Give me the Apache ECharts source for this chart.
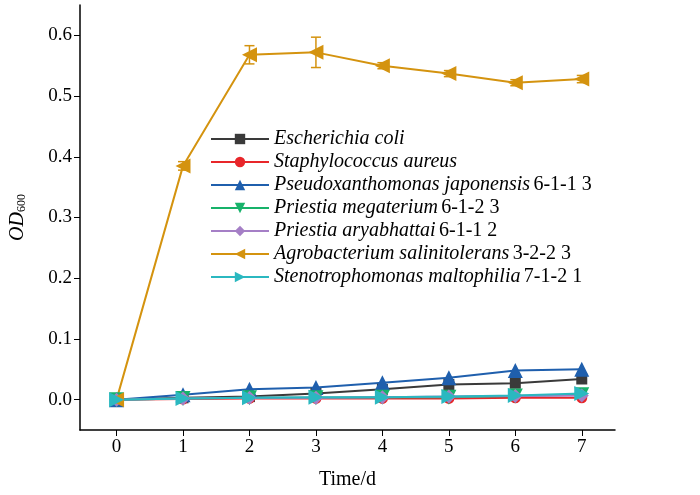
<!DOCTYPE html>
<html><head><meta charset="utf-8">
<script src="https://cdn.jsdelivr.net/npm/echarts@6/dist/echarts.min.js"></script>
<style>body{margin:0}#c{width:700px;height:495px}</style></head>
<body><div id="c"></div>
<script>
var days = [0,1,2,3,4,5,6,7];
var ecoli = [0,0.003,0.005,0.01,0.017,0.025,0.027,0.034];
var staph = [0,0.001,0.002,0.002,0.002,0.002,0.003,0.003];
var pseudo = [0,0.008,0.017,0.02,0.028,0.036,0.048,0.05];
var pmeg = [0,0.002,0.003,0.003,0.004,0.004,0.006,0.008];
var parya = [0,0.002,0.003,0.003,0.004,0.005,0.006,0.007];
var agro = [0,0.385,0.568,0.572,0.55,0.537,0.522,0.528];
var agroErr = [0,0.007,0.015,0.025,0.005,0.005,0.005,0.006];
var steno = [0,0.002,0.003,0.004,0.004,0.005,0.007,0.01];
var yTicks = [0,0.1,0.2,0.3,0.4,0.5,0.6];

var font = 'Liberation Serif';
function pts(a){ return a.map(function(v,i){ return [days[i], v]; }); }
function ser(name, data, color, symbol, rot, size){
  return {name:name, type:'line', data:pts(data), symbol:symbol, symbolRotate:rot||0, symbolSize:size||12,
    itemStyle:{color:color}, lineStyle:{color:color, width:2}, z:3};
}
var series = [
  ser('ecoli', ecoli, '#3a3a3a', 'rect', 0, 11),
  ser('staph', staph, '#e8262a', 'circle', 0, 11),
  ser('pseudo', pseudo, '#1f5fad', 'triangle', 0, 15),
  ser('pmeg', pmeg, '#17b26a', 'triangle', 180, 15),
  ser('parya', parya, '#a57fc6', 'diamond', 0, 14),
  ser('agro', agro, '#d4930f', 'triangle', 90, 15),
  ser('steno', steno, '#2bb8c0', 'triangle', -90, 15)
];
series.push({type:'custom', z:2, data:agro.map(function(v,i){return [days[i], v-agroErr[i], v+agroErr[i]];}),
  renderItem:function(p, api){
    var lo = api.coord([api.value(0), api.value(1)]), hi = api.coord([api.value(0), api.value(2)]);
    var st = {stroke:'#d4930f', lineWidth:1.5};
    return {type:'group', children:[
      {type:'line', shape:{x1:lo[0],y1:lo[1],x2:hi[0],y2:hi[1]}, style:st},
      {type:'line', shape:{x1:lo[0]-5,y1:lo[1],x2:lo[0]+5,y2:lo[1]}, style:st},
      {type:'line', shape:{x1:hi[0]-5,y1:hi[1],x2:hi[0]+5,y2:hi[1]}, style:st}
    ]};
  }});

var rich = {i:{fontStyle:'italic', fontFamily:font, fontSize:20, color:'#000'}, n:{fontFamily:font, fontSize:20, color:'#000'}};
var labels = {
  ecoli:'{i|Escherichia coli}',
  staph:'{i|Staphylococcus aureus}',
  pseudo:'{i|Pseudoxanthomonas japonensis} {n|6-1-1 3}',
  pmeg:'{i|Priestia megaterium} {n|6-1-2 3}',
  parya:'{i|Priestia aryabhattai} {n|6-1-1 2}',
  agro:'{i|Agrobacterium salinitolerans} {n|3-2-2 3}',
  steno:'{i|Stenotrophomonas maltophilia} {n|7-1-2 1}'
};

var chart = echarts.init(document.getElementById('c'));
chart.setOption({
  animation:false,
  grid:{left:80, right:85, top:5, bottom:65},
  legend:{left:205, top:124, orient:'vertical', itemGap:3, itemWidth:58, itemHeight:13,
    data:['ecoli','staph','pseudo','pmeg','parya','agro','steno'],
    formatter:function(n){return labels[n];}, textStyle:{rich:rich}},
  xAxis:{type:'value', min:-0.55, max:7.5,
    name:'Time/d', nameLocation:'middle', nameGap:40, nameTextStyle:{fontFamily:font, fontSize:20, color:'#000'},
    axisLine:{onZero:false, lineStyle:{color:'#000', width:1.5}}, splitLine:{show:false},
    axisTick:{customValues:days, lineStyle:{color:'#000'}, length:6},
    axisLabel:{customValues:days, fontFamily:font, fontSize:19, color:'#000'}},
  yAxis:{type:'value', min:-0.05, max:0.65,
    name:'{i|OD}{s|600}', nameLocation:'middle', nameGap:52, nameRotate:90,
    nameTextStyle:{rich:{i:{fontStyle:'italic', fontFamily:font, fontSize:20, color:'#000'}, s:{fontFamily:font, fontSize:12, color:'#000', verticalAlign:'bottom', padding:[8,0,0,0]}}},
    axisLine:{show:true, onZero:false, lineStyle:{color:'#000', width:1.5}}, splitLine:{show:false},
    axisTick:{show:true, customValues:yTicks, lineStyle:{color:'#000'}, length:6},
    axisLabel:{customValues:yTicks, fontFamily:font, fontSize:19, color:'#000', formatter:function(v){return v.toFixed(1);}}},
  series:series
});
</script></body></html>
